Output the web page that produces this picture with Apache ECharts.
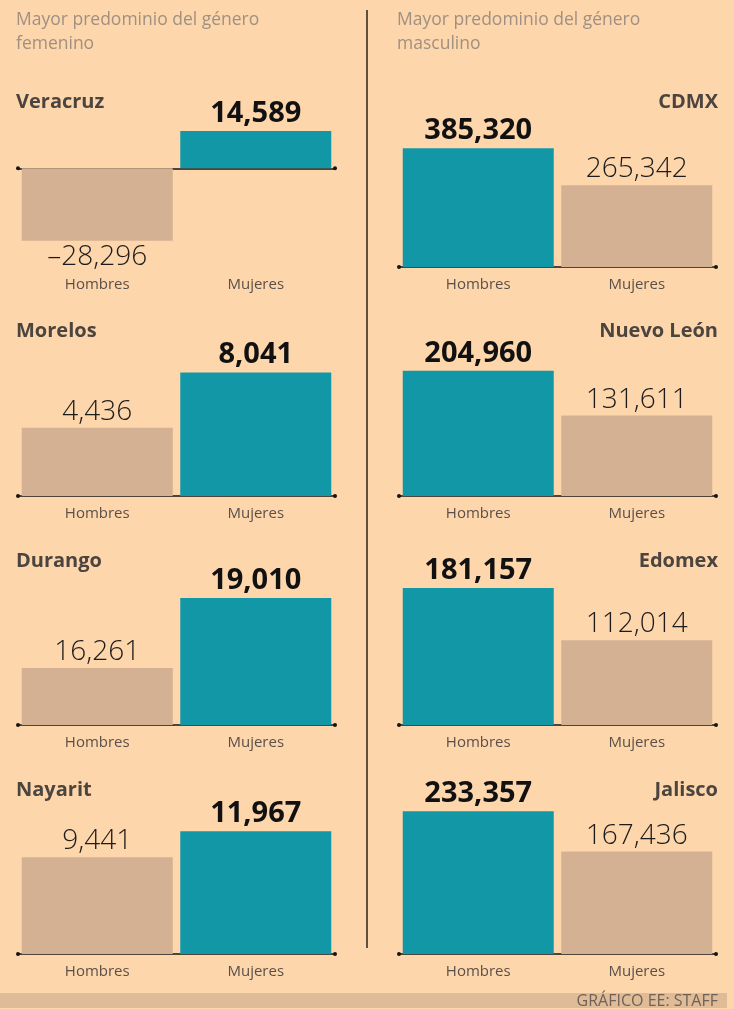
<!DOCTYPE html>
<html>
<head>
<meta charset="utf-8">
<style>
  html, body { margin: 0; padding: 0; background: #FDD6AC; }
  #chart { width: 734px; height: 1009px; }
</style>
<script src="https://cdn.jsdelivr.net/npm/echarts@6/dist/echarts.min.js"></script>
</head>
<body>
<div id="chart"></div>
<script>
// ---- Data ----
const estados = ['Veracruz', 'Morelos', 'Durango', 'Nayarit', 'CDMX', 'Nuevo León', 'Edomex', 'Jalisco'];
const categorias = ['Hombres', 'Mujeres'];
const hombres = [-28296, 4436, 16261, 9441, 385320, 204960, 181157, 233357];
const mujeres = [14589, 8041, 19010, 11967, 265342, 131611, 112014, 167436];
// value-axis extents (one per panel)
const yMin = [-38600, 0, 14023, 0, 0, 0, 0, 0];
const yMax = [20063, 9766, 19914, 14633, 486400, 245500, 198400, 245260];
const encabezados = ['Mayor predominio del género\nfemenino', 'Mayor predominio del género\nmasculino'];
const fuente = 'GRÁFICO EE: STAFF';

// ---- Styles / layout ----
const TEAL = '#1197A5', TAN = '#D3B192';
const FONT = 'Open Sans';
const axisY = [267, 496, 725, 954];
const titleY = [102, 331, 561, 790];
const GH = 150;

const grids = [], xAxes = [], yAxes = [], series = [], graphics = [];

function fmt(v) {
  return (v < 0 ? '–' : '') + Math.abs(v).toLocaleString('en-US');
}

estados.forEach((name, i) => {
  const col = i < 4 ? 0 : 1;
  const row = i % 4;
  grids.push({ left: col === 0 ? 18 : 399, width: 317, top: axisY[row] - GH, height: GH });
  // axis line (sits on zero)
  xAxes.push({
    type: 'category', gridIndex: i, data: categorias,
    axisLine: { show: true, onZero: true, symbol: ['circle', 'circle'], symbolSize: [4, 4],
      lineStyle: { color: '#151515', width: 1.5 } },
    axisTick: { show: false }, axisLabel: { show: false }
  });
  // category labels (always at the bottom)
  xAxes.push({
    type: 'category', gridIndex: i, data: categorias, position: 'bottom',
    axisLine: { show: false, onZero: false }, axisTick: { show: false },
    axisLabel: { show: true, color: '#5b5049', fontSize: 15, fontFamily: FONT, margin: 10 }
  });
  yAxes.push({ type: 'value', gridIndex: i, min: yMin[i], max: yMax[i], show: false });
  const vals = [hombres[i], mujeres[i]];
  const maxV = Math.max(vals[0], vals[1]);
  series.push({
    type: 'bar', xAxisIndex: 2 * i, yAxisIndex: i, barWidth: 151,
    silent: true, animation: false,
    data: vals.map(v => {
      const win = v === maxV;
      return {
        value: v,
        itemStyle: { color: win ? TEAL : TAN },
        label: {
          show: true, position: v < 0 ? 'bottom' : 'top', distance: win ? 3 : 2,
          formatter: p => fmt(p.value),
          fontFamily: FONT, fontSize: win ? 29 : 28, fontWeight: win ? 700 : 300,
          color: win ? '#111' : '#1c1c1c'
        }
      };
    })
  });
  graphics.push({
    type: 'text', silent: true,
    style: {
      text: name, x: col === 0 ? 16 : 718, y: titleY[row],
      textAlign: col === 0 ? 'left' : 'right', textVerticalAlign: 'middle',
      font: 'bold 20px "' + FONT + '"', fill: '#4c443f'
    }
  });
});

encabezados.forEach((t, c) => {
  graphics.push({
    type: 'text', silent: true,
    style: {
      text: t, x: c === 0 ? 16 : 397, y: 8, textAlign: 'left', textVerticalAlign: 'top',
      font: '17.5px "' + FONT + '"', fill: '#a09082', lineHeight: 24
    }
  });
});

graphics.push({ type: 'line', silent: true, shape: { x1: 367, y1: 10, x2: 367, y2: 948 },
  style: { stroke: '#3a2c22', lineWidth: 1.6 } });
graphics.push({ type: 'rect', silent: true, shape: { x: 0, y: 993, width: 727, height: 15 },
  style: { fill: '#DFBB98' } });
graphics.push({ type: 'text', silent: true,
  style: { text: fuente, x: 718, y: 1001, textAlign: 'right', textVerticalAlign: 'middle',
    font: '16px "' + FONT + '"', fill: '#6e6258' } });

const chart = echarts.init(document.getElementById('chart'), null, { renderer: 'canvas' });
chart.setOption({
  backgroundColor: '#FDD6AC',
  animation: false,
  textStyle: { fontFamily: FONT },
  grid: grids,
  xAxis: xAxes,
  yAxis: yAxes,
  series: series,
  graphic: graphics
});
</script>
</body>
</html>
